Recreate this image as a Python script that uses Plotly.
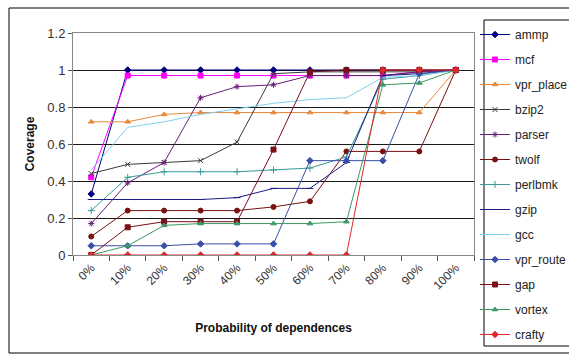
import plotly.graph_objects as go

# Probability of dependences (category axis)
categories = ["0%", "10%", "20%", "30%", "40%", "50%", "60%", "70%", "80%", "90%", "100%"]

# Coverage per benchmark
ammp = [0.33, 1.0, 1.0, 1.0, 1.0, 1.0, 1.0, 1.0, 1.0, 1.0, 1.0]
mcf = [0.42, 0.97, 0.97, 0.97, 0.97, 0.97, 0.97, 0.97, 0.97, 0.99, 1.0]
vpr_place = [0.72, 0.72, 0.76, 0.77, 0.77, 0.77, 0.77, 0.77, 0.77, 0.77, 1.0]
bzip2 = [0.44, 0.49, 0.50, 0.51, 0.61, 0.98, 0.99, 0.99, 0.99, 0.99, 1.0]
parser = [0.17, 0.39, 0.50, 0.85, 0.91, 0.92, 0.97, 0.97, 0.97, 0.99, 1.0]
twolf = [0.10, 0.24, 0.24, 0.24, 0.24, 0.26, 0.29, 0.56, 0.56, 0.56, 1.0]
perlbmk = [0.24, 0.42, 0.45, 0.45, 0.45, 0.46, 0.47, 0.53, 0.95, 0.97, 1.0]
gzip = [0.30, 0.30, 0.30, 0.30, 0.31, 0.36, 0.36, 0.50, 0.97, 0.98, 1.0]
gcc = [0.46, 0.69, 0.72, 0.76, 0.79, 0.82, 0.84, 0.85, 0.96, 0.97, 1.0]
vpr_route = [0.05, 0.05, 0.05, 0.06, 0.06, 0.06, 0.51, 0.51, 0.51, 0.98, 1.0]
gap = [0.0, 0.15, 0.18, 0.18, 0.18, 0.57, 0.99, 1.0, 1.0, 1.0, 1.0]
vortex = [0.0, 0.05, 0.16, 0.17, 0.17, 0.17, 0.17, 0.18, 0.92, 0.93, 1.0]
crafty = [0.0, 0.0, 0.0, 0.0, 0.0, 0.0, 0.0, 0.0, 1.0, 1.0, 1.0]

# Y tick labels
y_ticks = [0, 0.2, 0.4, 0.6, 0.8, 1.0, 1.2]
y_tick_labels = ["0", "0.2", "0.4", "0.6", "0.8", "1", "1.2"]

series = [
    ("ammp", ammp, "#000080", "diamond"),
    ("mcf", mcf, "#ff00ff", "square"),
    ("vpr_place", vpr_place, "#e8893a", "triangle-up"),
    ("bzip2", bzip2, "#3a3a3a", "x-thin-open"),
    ("parser", parser, "#6a1f7a", "asterisk-open"),
    ("twolf", twolf, "#7a1010", "circle"),
    ("perlbmk", perlbmk, "#3a9a9a", "cross-thin-open"),
    ("gzip", gzip, "#1a1a80", "line-ew-open"),
    ("gcc", gcc, "#7fd0ee", None),
    ("vpr_route", vpr_route, "#3a4fa8", "diamond"),
    ("gap", gap, "#7a0f18", "square"),
    ("vortex", vortex, "#3a9a64", "triangle-up"),
    ("crafty", crafty, "#e0282a", "diamond"),
]

fig = go.Figure()
for name, vals, color, symbol in series:
    mode = "lines+markers" if symbol else "lines"
    marker = dict(color=color, size=5, symbol=symbol or "circle",
                  line=dict(color=color, width=1))
    fig.add_trace(go.Scatter(
        x=categories, y=vals, name=name, mode=mode, legendgroup=name,
        line=dict(color=color, width=1), marker=marker,
    ))

font_family = "Liberation Sans, Arial, sans-serif"

fig.update_layout(
    width=569, height=356,
    margin=dict(l=73, r=95, t=33, b=101, autoexpand=False),
    paper_bgcolor="white", plot_bgcolor="white",
    font=dict(family=font_family, color="#222222", size=12),
    showlegend=True,
    legend=dict(
        xref="container", yref="container",
        x=475 / 569, y=1 - 20 / 356, xanchor="left", yanchor="top",
        borderwidth=0, bgcolor="rgba(0,0,0,0)",
        font=dict(size=12, family=font_family, color="#222222"),
        itemwidth=30, maxheight=345, tracegroupgap=6,
        traceorder="grouped",
    ),
    xaxis=dict(
        type="category", range=[-0.5, 10.5], tickson="boundaries",
        ticks="outside", ticklen=5, tickcolor="#555555",
        showgrid=False, showline=True, linecolor="#888888", mirror=True,
        tickangle=-45, tickfont=dict(size=12, color="#333333"),
        title=dict(text="<b>Probability of dependences</b>",
                   font=dict(size=12, color="#111111"), standoff=32),
    ),
    yaxis=dict(
        range=[0, 1.2], tickvals=y_ticks, ticktext=y_tick_labels,
        ticks="outside", ticklen=4, tickcolor="#555555",
        showgrid=True, gridcolor="#1a1a1a", gridwidth=1,
        showline=True, linecolor="#888888", mirror=True, zeroline=False,
        tickfont=dict(size=13, color="#333333"),
        title=dict(text="<b>Coverage</b>", font=dict(size=12, color="#111111"),
                   standoff=10),
    ),
    shapes=[
        # outer chart frame
        dict(type="rect", xref="paper", yref="paper",
             x0=(9 - 73) / 401, x1=1.3, y0=(255 - 353) / 222, y1=(255 - 8) / 222,
             line=dict(color="#000000", width=1), fillcolor="rgba(0,0,0,0)",
             layer="below"),
        # legend frame
        dict(type="rect", xref="paper", yref="paper",
             x0=(484 - 73) / 401, x1=1.3, y0=(255 - 346) / 222, y1=(255 - 20) / 222,
             line=dict(color="#000000", width=1), fillcolor="rgba(0,0,0,0)",
             layer="below"),
    ],
)

fig.write_html("out.html")
